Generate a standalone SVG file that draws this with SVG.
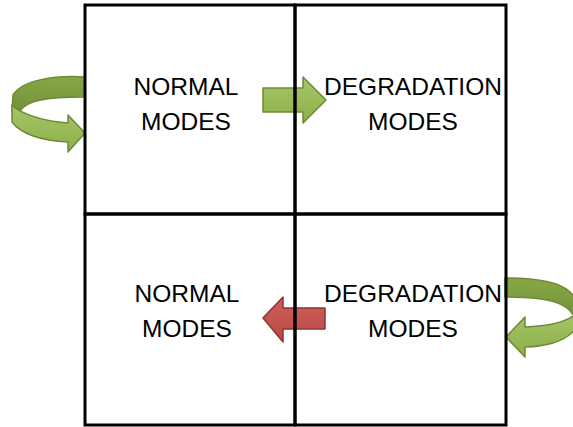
<svg xmlns="http://www.w3.org/2000/svg" width="573" height="427" viewBox="0 0 573 427">
  <defs>
    <linearGradient id="gGreen" x1="0" y1="0" x2="0" y2="1">
      <stop offset="0" stop-color="#a6c767"/>
      <stop offset="1" stop-color="#8cae4a"/>
    </linearGradient>
    <linearGradient id="gBack" x1="0" y1="0" x2="0" y2="1">
      <stop offset="0" stop-color="#88a845"/>
      <stop offset="1" stop-color="#72913a"/>
    </linearGradient>
    <linearGradient id="gRed" x1="0" y1="0" x2="0" y2="1">
      <stop offset="0" stop-color="#d0605c"/>
      <stop offset="1" stop-color="#b84844"/>
    </linearGradient>
    <style>
      .cell { fill: none; stroke: #000; stroke-width: 3; }
      .lbl { font-family: "Liberation Sans", Arial, sans-serif; font-size: 24.5px; fill: #000; text-anchor: middle; }
      .gArrow { fill: url(#gGreen); stroke: #6e8a36; stroke-width: 1.5; stroke-linejoin: round; }
      .gBack { fill: url(#gBack); stroke: #6e8a36; stroke-width: 1.5; stroke-linejoin: round; }
      .rArrow { fill: url(#gRed); stroke: #8e3532; stroke-width: 1.5; stroke-linejoin: round; }
    </style>
  </defs>
  <rect width="573" height="427" fill="#fff"/>
  <g id="connectors">
    <g id="loop-normal">
      <path class="gBack" d="M85,77 C55,75 22,80 13,95 L12,111 L20,111 C26,101 45,97 85,97 Z"/>
      <path class="gArrow" d="M12,105 C18,112 40,121 68,123 L68,115 L85,133 L68,152 L68,142 C40,141 20,133 12,122 Z"/>
    </g>
    <path id="normal-to-degradation" class="gArrow" d="M263,88 L303,88 L303,77 L326,100 L303,123 L303,112 L263,112 Z"/>
    <path id="degradation-to-normal" class="rArrow" d="M325,308 L283,308 L283,297 L263,318 L283,342 L283,329 L325,329 Z"/>
    <g id="loop-degradation">
      <path class="gBack" d="M505,278 C535,278 560,282 570,292 C576,298 578,305 578,312 L575,318 C568,303 550,297 505,297 Z"/>
      <path class="gArrow" d="M580,310 C572,320 555,326 525,327 L525,317 L506,337 L525,357 L525,347 C555,346 572,338 580,322 Z"/>
    </g>
  </g>
  <g id="node-normal-top">
    <rect class="cell" x="85" y="5" width="210" height="209"/>
    <text class="lbl" x="186" y="95">NORMAL</text>
    <text class="lbl" x="186" y="130">MODES</text>
  </g>
  <g id="node-degradation-top">
    <rect class="cell" x="295" y="5" width="211" height="209"/>
    <text class="lbl" x="413" y="95">DEGRADATION</text>
    <text class="lbl" x="413" y="130">MODES</text>
  </g>
  <g id="node-normal-bottom">
    <rect class="cell" x="85" y="214" width="210" height="211"/>
    <text class="lbl" x="187" y="302">NORMAL</text>
    <text class="lbl" x="187" y="337">MODES</text>
  </g>
  <g id="node-degradation-bottom">
    <rect class="cell" x="295" y="214" width="211" height="211"/>
    <text class="lbl" x="413" y="302">DEGRADATION</text>
    <text class="lbl" x="413" y="337">MODES</text>
  </g>
</svg>
